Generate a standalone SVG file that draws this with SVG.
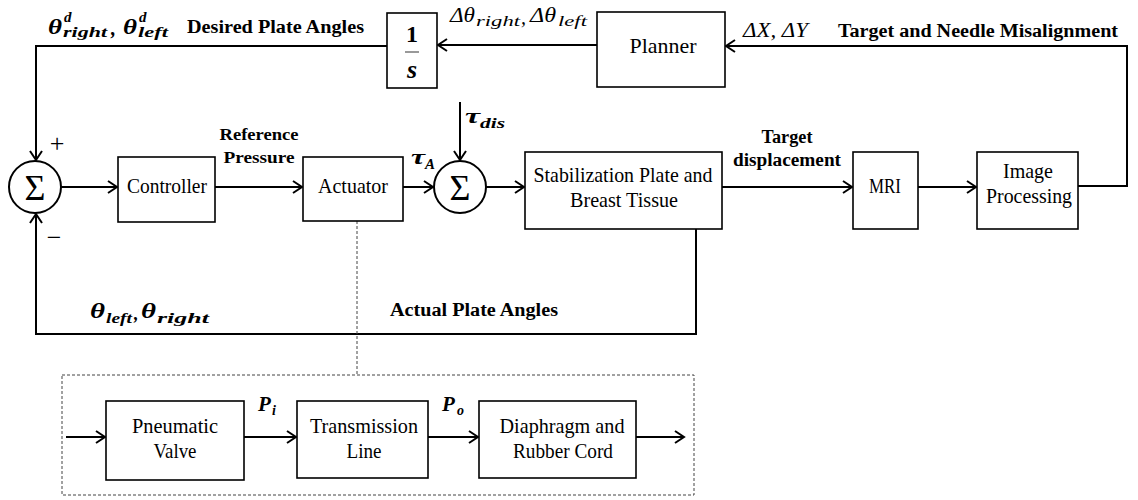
<svg xmlns="http://www.w3.org/2000/svg" width="1138" height="500" viewBox="0 0 1138 500">
<defs>
<style>
.box{fill:#fff;stroke:#000;stroke-width:1.6}
.t{font-family:"Liberation Serif",serif;font-size:21px;fill:#000;text-anchor:middle}
.b{font-family:"Liberation Serif",serif;font-size:18px;font-weight:bold;fill:#000}
.m{font-family:"Liberation Serif",serif;font-style:italic;fill:#000}
.mb{font-family:"Liberation Serif",serif;font-style:italic;font-weight:bold;fill:#000}
.c{fill:none;stroke:#000;stroke-width:2}
.d{fill:none;stroke:#444;stroke-width:1;stroke-dasharray:3 2}
</style>
<marker id="arr" markerWidth="12" markerHeight="14" refX="10" refY="7" orient="auto" markerUnits="userSpaceOnUse">
<path d="M1,1 L10,7 L1,13" fill="none" stroke="#000" stroke-width="2"/>
</marker>
</defs>
<rect width="1138" height="500" fill="#fff"/>

<g id="connectors">
<path class="c" d="M597,45 H438" marker-end="url(#arr)"/>
<path class="c" d="M387,46 H36 V160" marker-end="url(#arr)"/>
<path class="c" d="M61,187 H117" marker-end="url(#arr)"/>
<path class="c" d="M215,187 H302" marker-end="url(#arr)"/>
<path class="c" d="M403,187 H433" marker-end="url(#arr)"/>
<path class="c" d="M460,102 V160" marker-end="url(#arr)"/>
<path class="c" d="M486,187 H524" marker-end="url(#arr)"/>
<path class="c" d="M722,187 H852" marker-end="url(#arr)"/>
<path class="c" d="M918,187 H976" marker-end="url(#arr)"/>
<path class="c" d="M1078,186 H1127 V46 H726" marker-end="url(#arr)"/>
<path class="c" d="M696,229 V334 H36 V214" marker-end="url(#arr)"/>
<path class="d" d="M357,221 V375"/>
<rect class="d" x="62" y="375" width="632" height="120"/>
<path class="c" d="M66,437 H105" marker-end="url(#arr)"/>
<path class="c" d="M244,437 H296" marker-end="url(#arr)"/>
<path class="c" d="M428,437 H478" marker-end="url(#arr)"/>
<path class="c" d="M636,437 H684" marker-end="url(#arr)"/>
</g>

<g id="sum1">
<circle cx="35" cy="187" r="26" fill="#fff" stroke="#000" stroke-width="2"/>
<text class="t" x="35" y="200" style="font-size:36px">Σ</text>
<text class="t" x="57" y="152" style="font-size:26px">+</text>
<text class="t" x="54" y="246" style="font-size:26px">−</text>
</g>

<g id="controller">
<rect class="box" x="118" y="157" width="97" height="65"/>
<text class="t" x="167" y="193" textLength="80" lengthAdjust="spacingAndGlyphs">Controller</text>
</g>

<g id="actuator">
<rect class="box" x="303" y="157" width="100" height="64"/>
<text class="t" x="353" y="193" textLength="70" lengthAdjust="spacingAndGlyphs">Actuator</text>
</g>

<g id="sum2">
<circle cx="460" cy="187" r="26" fill="#fff" stroke="#000" stroke-width="2"/>
<text class="t" x="460" y="200" style="font-size:36px">Σ</text>
</g>

<g id="stabilization">
<rect class="box" x="525" y="152" width="197" height="77"/>
<text class="t" x="623" y="182" textLength="179" lengthAdjust="spacingAndGlyphs">Stabilization Plate and</text>
<text class="t" x="624" y="207" textLength="108" lengthAdjust="spacingAndGlyphs">Breast Tissue</text>
</g>

<g id="mri">
<rect class="box" x="853" y="152" width="65" height="77"/>
<text class="t" x="885" y="193" textLength="32" lengthAdjust="spacingAndGlyphs">MRI</text>
</g>

<g id="image-processing">
<rect class="box" x="977" y="152" width="101" height="77"/>
<text class="t" x="1028" y="178" textLength="50" lengthAdjust="spacingAndGlyphs">Image</text>
<text class="t" x="1029" y="203" textLength="86" lengthAdjust="spacingAndGlyphs">Processing</text>
</g>

<g id="planner">
<rect class="box" x="597" y="12" width="128" height="75"/>
<text class="t" x="663" y="53" textLength="67" lengthAdjust="spacingAndGlyphs">Planner</text>
</g>

<g id="integrator">
<rect class="box" x="387" y="13" width="50" height="75"/>
<text class="t" x="412" y="42" style="font-size:24px;font-weight:bold">1</text>
<line x1="405" y1="52" x2="419" y2="52" stroke="#555" stroke-width="1.2"/>
<text class="mb" x="412" y="78" style="font-size:26px;text-anchor:middle">s</text>
</g>

<g id="pneumatic-valve">
<rect class="box" x="106" y="401" width="138" height="79"/>
<text class="t" x="175" y="433" textLength="86" lengthAdjust="spacingAndGlyphs">Pneumatic</text>
<text class="t" x="175" y="458" textLength="43" lengthAdjust="spacingAndGlyphs">Valve</text>
</g>

<g id="transmission-line">
<rect class="box" x="297" y="401" width="131" height="77"/>
<text class="t" x="364" y="433" textLength="108" lengthAdjust="spacingAndGlyphs">Transmission</text>
<text class="t" x="364" y="458" textLength="35" lengthAdjust="spacingAndGlyphs">Line</text>
</g>

<g id="diaphragm">
<rect class="box" x="479" y="401" width="157" height="77"/>
<text class="t" x="562" y="433" textLength="125" lengthAdjust="spacingAndGlyphs">Diaphragm and</text>
<text class="t" x="563" y="458" textLength="100" lengthAdjust="spacingAndGlyphs">Rubber Cord</text>
</g>

<g id="labels">
<text class="mb" x="48" y="34" style="font-size:22px" textLength="14" lengthAdjust="spacingAndGlyphs">θ</text>
<text class="mb" x="64" y="22" style="font-size:15px">d</text>
<text class="mb" x="63" y="37" style="font-size:15px" textLength="44" lengthAdjust="spacingAndGlyphs">right</text>
<text class="mb" x="111" y="35" style="font-size:20px">,</text>
<text class="mb" x="123" y="34" style="font-size:22px" textLength="14" lengthAdjust="spacingAndGlyphs">θ</text>
<text class="mb" x="139" y="22" style="font-size:15px">d</text>
<text class="mb" x="138" y="37" style="font-size:15px" textLength="30" lengthAdjust="spacingAndGlyphs">left</text>
<text class="b" x="187" y="33" textLength="177" lengthAdjust="spacingAndGlyphs">Desired Plate Angles</text>

<text class="m" x="450" y="22" style="font-size:21px" textLength="25" lengthAdjust="spacingAndGlyphs">Δθ</text>
<text class="m" x="476" y="26" style="font-size:15px" textLength="44" lengthAdjust="spacingAndGlyphs">right</text>
<text class="m" x="521" y="24" style="font-size:20px">,</text>
<text class="m" x="530" y="22" style="font-size:21px" textLength="26" lengthAdjust="spacingAndGlyphs">Δθ</text>
<text class="m" x="558" y="26" style="font-size:15px" textLength="29" lengthAdjust="spacingAndGlyphs">left</text>

<text class="m" x="743" y="37" style="font-size:21px" textLength="65" lengthAdjust="spacingAndGlyphs">ΔX, ΔY</text>
<text class="b" x="838" y="37" textLength="280" lengthAdjust="spacingAndGlyphs">Target and Needle Misalignment</text>

<text class="b" x="259" y="140" style="text-anchor:middle;font-size:17px" textLength="79" lengthAdjust="spacingAndGlyphs">Reference</text>
<text class="b" x="259" y="163" style="text-anchor:middle;font-size:17px" textLength="71" lengthAdjust="spacingAndGlyphs">Pressure</text>

<text class="mb" x="411" y="164" style="font-size:22px" textLength="14" lengthAdjust="spacingAndGlyphs">τ</text>
<text class="mb" x="425" y="169" style="font-size:15px">A</text>
<text class="mb" x="465" y="123" style="font-size:22px" textLength="15" lengthAdjust="spacingAndGlyphs">τ</text>
<text class="mb" x="480" y="128" style="font-size:15px" textLength="25" lengthAdjust="spacingAndGlyphs">dis</text>

<text class="b" x="787" y="143" style="text-anchor:middle" textLength="51" lengthAdjust="spacingAndGlyphs">Target</text>
<text class="b" x="787" y="166" style="text-anchor:middle" textLength="108" lengthAdjust="spacingAndGlyphs">displacement</text>

<text class="mb" x="90" y="318" style="font-size:22px" textLength="15" lengthAdjust="spacingAndGlyphs">θ</text>
<text class="mb" x="106" y="323" style="font-size:15px" textLength="26" lengthAdjust="spacingAndGlyphs">left</text>
<text class="mb" x="134" y="320" style="font-size:18px">,</text>
<text class="mb" x="141" y="318" style="font-size:22px" textLength="15" lengthAdjust="spacingAndGlyphs">θ</text>
<text class="mb" x="157" y="323" style="font-size:15px" textLength="52" lengthAdjust="spacingAndGlyphs">right</text>
<text class="b" x="390" y="316" textLength="168" lengthAdjust="spacingAndGlyphs">Actual Plate Angles</text>

<text class="mb" x="258" y="411" style="font-size:21px">P</text>
<text class="mb" x="272" y="415" style="font-size:14px">i</text>
<text class="mb" x="442" y="411" style="font-size:21px">P</text>
<text class="mb" x="457" y="415" style="font-size:14px">o</text>
</g>
</svg>
